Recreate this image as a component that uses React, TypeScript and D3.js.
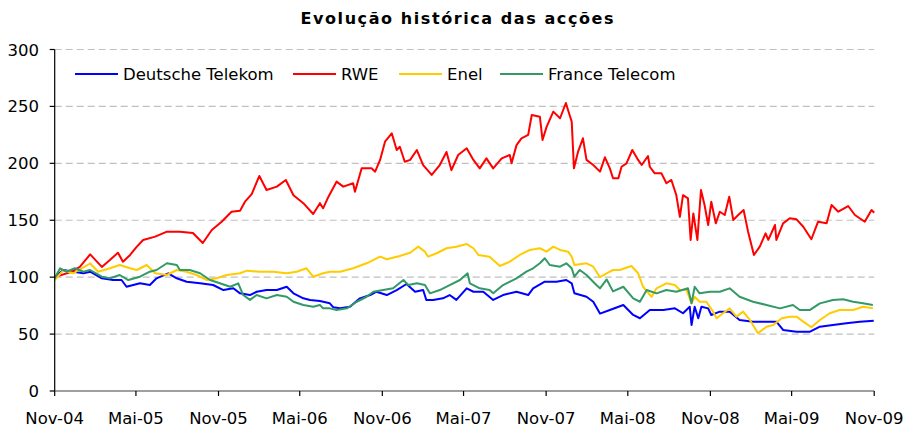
import React from "react";
import * as d3 from "d3";

type Pt = [string, number];

const TITLE = "Evolução histórica das acções";
const X_TICKS = ["2004-11-01","2005-05-01","2005-11-01","2006-05-01","2006-11-01","2007-05-01","2007-11-01","2008-05-01","2008-11-01","2009-05-01","2009-11-01"];
const X_TICK_LABELS = ["Nov-04","Mai-05","Nov-05","Mai-06","Nov-06","Mai-07","Nov-07","Mai-08","Nov-08","Mai-09","Nov-09"];
const Y_TICKS = [0, 50, 100, 150, 200, 250, 300];

const deutscheTelekom: Pt[] = [
  ["2004-11-01",100],["2004-11-20",106.3],["2004-12-12",104.8],["2005-01-04",103.4],["2005-01-19",104.8],
  ["2005-02-14",99],["2005-03-11",97.5],["2005-03-30",97.5],["2005-04-10",91.6],["2005-05-10",94.6],
  ["2005-06-01",93.1],["2005-06-16",99],["2005-07-12",103.4],["2005-07-31",99],["2005-08-22",96],
  ["2005-09-21",94.6],["2005-10-20",93.1],["2005-11-12",88.7],["2005-12-04",90.2],["2005-12-19",85.8],
  ["2006-01-10",84.3],["2006-01-25",87.2],["2006-02-16",88.7],["2006-03-11",88.7],["2006-04-02",91.6],
  ["2006-04-17",85.8],["2006-05-09",81.4],["2006-05-24",79.9],["2006-06-15",79],["2006-07-07",77],
  ["2006-07-15",73.5],["2006-07-30",72.6],["2006-08-21",74],["2006-09-12",81.4],["2006-10-05",84.3],
  ["2006-10-19",87.2],["2006-11-11",84.3],["2006-12-03",88.7],["2006-12-25",94],["2007-01-13",87.2],
  ["2007-01-31",88.7],["2007-02-07",80],["2007-02-22",80],["2007-03-16",81.4],["2007-03-31",84.3],
  ["2007-04-15",80],["2007-05-08",90.2],["2007-05-23",87.2],["2007-06-14",87.2],["2007-07-06",80],
  ["2007-07-28",84.3],["2007-08-27",87.2],["2007-09-22",84.3],["2007-10-03",90.2],["2007-10-29",96],
  ["2007-11-24",96],["2007-12-16",97.5],["2007-12-28",94.6],["2008-01-03",85.8],["2008-01-30",82.8],
  ["2008-02-14",78.4],["2008-02-29",68],["2008-03-22",71.2],["2008-04-21",75.6],["2008-05-13",66.8],
  ["2008-05-28",63.9],["2008-06-19",71.2],["2008-07-19",71.2],["2008-08-14",72.6],["2008-09-01",68.3],
  ["2008-09-16",74],["2008-09-20",58],["2008-09-27",74],["2008-10-05",63.9],["2008-10-12",74],
  ["2008-10-27",72.6],["2008-11-03",66.8],["2008-11-22",69.7],["2008-12-14",69.7],["2009-01-05",62.4],
  ["2009-02-04",60.9],["2009-03-06",60.9],["2009-03-28",60.9],["2009-04-12",53.6],["2009-05-12",52.1],
  ["2009-06-11",52.1],["2009-07-03",56.5],["2009-08-01",58],["2009-08-31",59.5],["2009-09-30",60.9],
  ["2009-10-31",61.8],
];

const rwe: Pt[] = [
  ["2004-11-01",100],["2004-12-09",104.8],["2004-12-27",109],["2005-01-19",120],["2005-02-14",109],
  ["2005-03-04",115],["2005-03-22",121.5],["2005-04-02",113.6],["2005-04-18",119.5],["2005-05-03",126.8],
  ["2005-05-17",132.7],["2005-06-13",135.6],["2005-07-09",140],["2005-08-07",140],["2005-09-05",138.8],
  ["2005-09-27",130],["2005-10-17",141.4],["2005-11-08",148.7],["2005-11-30",157.5],["2005-12-19",158.4],
  ["2005-12-30",166.3],["2006-01-14",173],["2006-01-31",188.9],["2006-02-16",176.6],["2006-03-11",179.5],
  ["2006-03-31",185.4],["2006-04-17",172],["2006-05-09",165],["2006-05-31",155.5],["2006-06-15",165],
  ["2006-06-22",160.5],["2006-07-04",170.7],["2006-07-22",183.9],["2006-08-06",179.5],["2006-08-28",182.5],
  ["2006-09-01",175],["2006-09-16",195.6],["2006-10-08",195.6],["2006-10-16",192.7],["2006-10-27",203],
  ["2006-11-07",219],["2006-11-22",226.4],["2006-12-03",211.7],["2006-12-10",214.6],["2006-12-21",201.4],
  ["2007-01-02",203],["2007-01-17",211.7],["2007-01-31",198.5],["2007-02-19",189.8],["2007-03-09",198.5],
  ["2007-03-24",210],["2007-04-04",194],["2007-04-19",207.3],["2007-05-08",213.2],["2007-05-23",203],
  ["2007-06-06",195.6],["2007-06-21",204.4],["2007-07-06",195.6],["2007-07-25",204.4],["2007-08-12",207.3],
  ["2007-08-16",200],["2007-08-27",216],["2007-09-07",222],["2007-09-22",225],["2007-09-30",242.5],
  ["2007-10-18",241],["2007-10-24",220.5],["2007-11-02",232],["2007-11-17",245.4],["2007-12-02",239.6],
  ["2007-12-15",253],["2007-12-22",244],["2007-12-28",236.6],["2008-01-02",195.6],["2008-01-11",210],
  ["2008-01-22",222],["2008-01-30",203],["2008-02-14",198.5],["2008-02-29",192.7],["2008-03-11",205.3],
  ["2008-03-22",195.6],["2008-03-29",186.9],["2008-04-10",186.9],["2008-04-17",197],["2008-04-28",200],
  ["2008-05-11",211.7],["2008-05-24",203],["2008-06-01",198.5],["2008-06-15",206.4],["2008-06-19",197],
  ["2008-06-30",191.2],["2008-07-15",191.2],["2008-07-26",182.5],["2008-08-06",185.4],["2008-08-17",172.2],
  ["2008-08-25",153],["2008-09-01",172],["2008-09-12",169.3],["2008-09-18",132.7],["2008-09-24",156],
  ["2008-10-03",132.7],["2008-10-11",176.6],["2008-10-19",163.4],["2008-10-27",145.8],["2008-11-03",166.3],
  ["2008-11-13",147.3],["2008-11-22",157.5],["2008-12-03",154.6],["2008-12-13",170.7],["2008-12-22",150.2],
  ["2009-01-02",154.6],["2009-01-14",159],["2009-01-24",140],["2009-02-06",119.5],["2009-02-19",126.8],
  ["2009-03-04",138.5],["2009-03-10",132.7],["2009-03-25",145.8],["2009-03-28",132.7],["2009-04-12",147.3],
  ["2009-04-27",151.7],["2009-05-12",150.8],["2009-05-27",144.3],["2009-06-14",133.3],["2009-06-29",148.7],
  ["2009-07-18",147.3],["2009-07-29",163.4],["2009-08-13",157.5],["2009-09-04",162.5],["2009-09-19",154.6],
  ["2009-10-11",148.7],["2009-10-26",159],["2009-11-01",156.6],
];

const enel: Pt[] = [
  ["2004-11-01",97.5],["2004-11-20",106],["2004-12-12",103.4],["2005-01-19",112],["2005-02-06",104.8],
  ["2005-03-04",107.8],["2005-03-26",110.7],["2005-04-18",107.8],["2005-05-03",106.3],["2005-05-25",110.7],
  ["2005-06-13",103.4],["2005-07-09",101.9],["2005-07-31",106.3],["2005-08-22",104.8],["2005-09-13",101.9],
  ["2005-10-06",97.5],["2005-10-28",99],["2005-11-19",101.9],["2005-12-19",103.4],["2006-01-03",105.7],
  ["2006-02-01",104.8],["2006-03-03",104.8],["2006-04-02",103.4],["2006-04-24",104.8],["2006-05-16",107.8],
  ["2006-05-31",100.4],["2006-06-22",103.4],["2006-07-07",104.8],["2006-07-30",104.8],["2006-08-28",107.8],
  ["2006-09-27",112.2],["2006-10-27",118],["2006-11-11",115.7],["2006-12-10",118.6],["2007-01-02",121.5],
  ["2007-01-20",126.8],["2007-02-04",122.4],["2007-02-11",118],["2007-03-02",121],["2007-03-24",125.4],
  ["2007-04-15",126.8],["2007-05-08",129.1],["2007-05-23",125.4],["2007-06-03",119.5],["2007-06-28",118],
  ["2007-07-21",109.8],["2007-08-12",113.6],["2007-09-03",119.5],["2007-09-26",123.9],["2007-10-18",125.4],
  ["2007-11-02",122.4],["2007-11-17",126.8],["2007-12-02",123.9],["2007-12-20",122.4],["2007-12-28",118],
  ["2008-01-03",110.7],["2008-01-30",112.2],["2008-02-14",109.2],["2008-02-29",100],["2008-03-15",103.4],
  ["2008-03-29",106.3],["2008-04-13",106.3],["2008-05-09",109.8],["2008-05-24",103.4],["2008-06-04",91.6],
  ["2008-06-23",82.8],["2008-07-04",90.2],["2008-07-26",94.6],["2008-08-14",93.1],["2008-08-25",88.7],
  ["2008-09-09",88.7],["2008-09-20",77],["2008-09-27",82.8],["2008-10-08",78.4],["2008-10-23",78.4],
  ["2008-11-07",69.7],["2008-11-15",63.9],["2008-11-29",68.3],["2008-12-14",72.6],["2008-12-29",65.3],
  ["2009-01-13",69.7],["2009-01-28",62.4],["2009-02-15",50.7],["2009-03-06",56.5],["2009-03-21",58],
  ["2009-04-09",63.9],["2009-04-27",65.3],["2009-05-12",65.3],["2009-05-27",60.9],["2009-06-14",56],
  ["2009-07-03",62.4],["2009-07-25",68.3],["2009-08-16",71.2],["2009-09-15",71.2],["2009-10-07",74],
  ["2009-10-29",72.6],
];

const franceTelecom: Pt[] = [
  ["2004-11-01",99],["2004-11-13",107.8],["2004-11-27",104.8],["2004-12-16",107.8],["2005-01-04",104.8],
  ["2005-01-19",106.3],["2005-02-14",100.4],["2005-03-04",99],["2005-03-26",101.9],["2005-04-14",97.5],
  ["2005-05-10",100.4],["2005-06-01",104.8],["2005-06-16",106.3],["2005-07-09",112.2],["2005-07-31",110.7],
  ["2005-08-07",106.3],["2005-08-29",106.3],["2005-09-21",103.4],["2005-10-13",97.5],["2005-11-04",94.6],
  ["2005-11-27",91.6],["2005-12-15",94.6],["2005-12-26",84.3],["2006-01-10",80],["2006-01-25",84.3],
  ["2006-02-16",81.4],["2006-03-11",84.3],["2006-04-02",82.8],["2006-04-17",78.4],["2006-05-09",75.6],
  ["2006-05-31",74],["2006-06-15",75.6],["2006-06-22",72.6],["2006-07-07",72.6],["2006-07-22",71.2],
  ["2006-08-14",72.6],["2006-09-05",78.4],["2006-09-27",82.8],["2006-10-12",87.2],["2006-11-03",88.7],
  ["2006-11-25",90.2],["2006-12-18",97.5],["2006-12-29",93.1],["2007-01-17",94.6],["2007-02-04",93.1],
  ["2007-02-15",85.8],["2007-03-09",88.7],["2007-03-31",93.1],["2007-04-23",97.5],["2007-05-10",103.4],
  ["2007-05-15",94.6],["2007-06-06",90.2],["2007-06-28",88.7],["2007-07-06",85.8],["2007-07-28",93.1],
  ["2007-08-27",99],["2007-09-18",104.8],["2007-10-03",107.8],["2007-10-18",112.2],["2007-10-29",116.6],
  ["2007-11-09",110.7],["2007-12-02",109.2],["2007-12-16",112.2],["2007-12-28",107.8],["2008-01-03",100.4],
  ["2008-01-15",106.3],["2008-01-30",101.9],["2008-02-21",93.1],["2008-02-29",90.2],["2008-03-15",98],
  ["2008-03-29",87.5],["2008-04-21",91.6],["2008-05-13",81.4],["2008-05-28",78.4],["2008-06-12",88.7],
  ["2008-07-04",85.8],["2008-07-26",88.7],["2008-08-17",87.2],["2008-09-12",90.2],["2008-09-20",77],
  ["2008-09-27",91.6],["2008-10-08",85.8],["2008-10-31",87.2],["2008-11-22",87.2],["2008-12-14",90.2],
  ["2009-01-05",82.8],["2009-02-04",78.4],["2009-03-06",75.6],["2009-04-05",72.6],["2009-05-04",75.6],
  ["2009-05-19",71.2],["2009-06-11",71.2],["2009-07-03",77],["2009-08-01",80],["2009-08-24",80.6],
  ["2009-09-15",78.4],["2009-10-07",77],["2009-10-29",75.6],
];

const SERIES_NAMES = ["Deutsche Telekom", "RWE", "Enel", "France Telecom"];
const SERIES_DATA = [deutscheTelekom, rwe, enel, franceTelecom];
const SERIES_COLORS = ["#0000FF", "#FF0000", "#FFCC00", "#339966"];

const W = 906, H = 428;
const FONT = "'DejaVu Sans', Verdana, sans-serif";
const parse = d3.timeParse("%Y-%m-%d");

export default function App() {
  const x = d3.scaleTime()
    .domain([parse("2004-11-01")!, parse("2009-11-01")!])
    .range([54.7, 874.2]);
  const y = d3.scaleLinear().domain([0, 300]).range([391, 49.5]);
  const line = d3.line<Pt>()
    .x((d) => x(parse(d[0])!))
    .y((d) => y(d[1]));

  const x0 = x.range()[0], x1 = x.range()[1];
  const legendLineX = [75, 293, 399, 500];

  return (
    <svg width={W} height={H} style={{ position: "absolute", left: 0, top: 0, background: "#fff" }}
      fontFamily={FONT}>
      <text x={457} y={23.5} textAnchor="middle" fontWeight="bold" fontSize={16} fill="#000"
        textLength={313} lengthAdjust="spacing">{TITLE}</text>

      {Y_TICKS.filter((t) => t > 0).map((t) => (
        <line key={"g" + t} x1={x0} x2={x1} y1={y(t)} y2={y(t)} stroke="#C0C0C0" strokeWidth={1.2}
          strokeDasharray="7,4" />
      ))}

      {SERIES_DATA.map((data, i) => (
        <path key={SERIES_NAMES[i]} d={line(data) || ""} fill="none" stroke={SERIES_COLORS[i]}
          strokeWidth={2} strokeLinejoin="round" />
      ))}

      <line x1={x0} x2={x0} y1={y(300)} y2={y(0)} stroke="#000" strokeWidth={1.2} />
      <line x1={x0} x2={x1} y1={y(0)} y2={y(0)} stroke="#404040" strokeWidth={1.2} />
      {Y_TICKS.map((t) => (
        <g key={"y" + t}>
          <line x1={x0 - 5} x2={x0} y1={y(t)} y2={y(t)} stroke="#000" strokeWidth={1.2} />
          <text x={39} y={y(t) + 6} textAnchor="end" fontSize={16.5} fill="#000">{t}</text>
        </g>
      ))}
      {X_TICKS.map((t, i) => {
        const px = x(parse(t)!);
        return (
          <g key={t}>
            <line x1={px} x2={px} y1={y(0)} y2={y(0) + 5} stroke="#000" strokeWidth={1.2} />
            <text x={px} y={424} textAnchor="middle" fontSize={16.5} fill="#000">{X_TICK_LABELS[i]}</text>
          </g>
        );
      })}

      {SERIES_NAMES.map((name, i) => (
        <g key={"l" + name}>
          <line x1={legendLineX[i]} x2={legendLineX[i] + 43} y1={74} y2={74} stroke={SERIES_COLORS[i]} strokeWidth={2} />
          <text x={legendLineX[i] + 48} y={80} fontSize={16.5} fill="#000">{name}</text>
        </g>
      ))}
    </svg>
  );
}
